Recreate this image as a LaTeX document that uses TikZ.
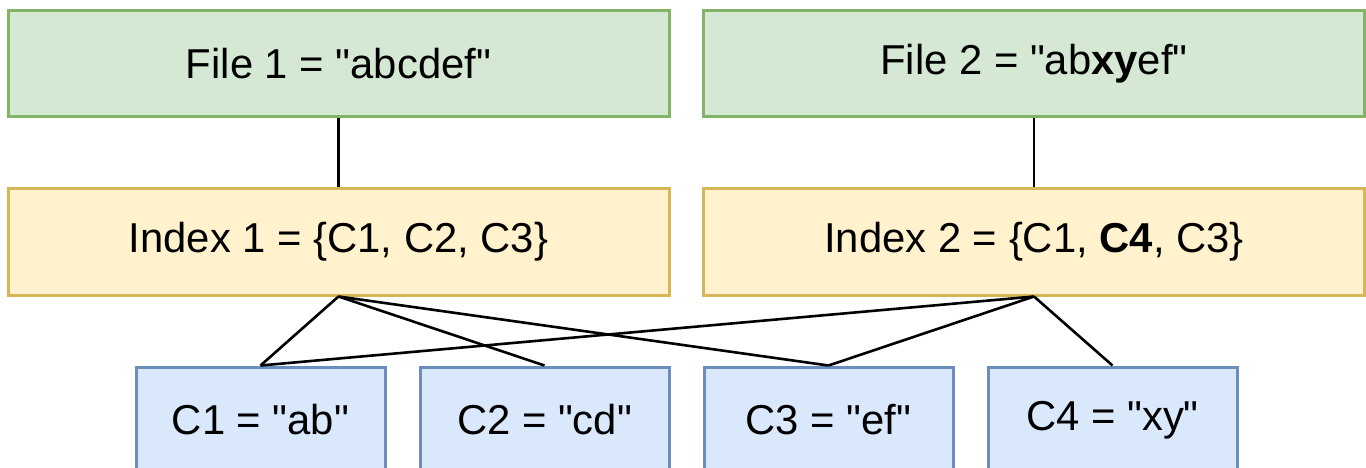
\documentclass[tikz,border=0pt]{standalone}
\usepackage{fontspec}
\setmainfont{Liberation Sans}
\newcommand{\dq}{\textquotedbl}
\definecolor{fileFill}{HTML}{D5E8D4}
\definecolor{fileLine}{HTML}{82B366}
\definecolor{idxFill}{HTML}{FFF2CC}
\definecolor{idxLine}{HTML}{D6B656}
\definecolor{chFill}{HTML}{DAE8FC}
\definecolor{chLine}{HTML}{6C8EBF}
\tikzset{
  box/.style={draw, line width=3pt, inner sep=0pt, minimum height=106pt,
    font=\fontsize{41.8}{50}\selectfont},
  filebox/.style={box, fill=fileFill, draw=fileLine, minimum width=661pt},
  idxbox/.style={box, fill=idxFill, draw=idxLine, minimum width=661pt},
  chunkbox/.style={box, fill=chFill, draw=chLine, minimum width=249pt},
  link/.style={draw=black, line width=2.6pt, line join=round}
}
\begin{document}
\begin{tikzpicture}[x=1pt,y=-1pt]
\useasboundingbox (0,0) rectangle (1366,468);
\clip (0,0) rectangle (1366,468);
% files
\node[filebox] (f1) at (338.5,64) {File 1 = \dq abcdef\dq};
\node[filebox] (f2) at (1034,64) {File 2 = \dq ab\textbf{xy}ef\dq};
% indexes
\node[idxbox] (i1) at (338.5,242) {Index 1 = \{C1, C2, C3\}};
\node[idxbox] (i2) at (1034,242) {Index 2 = \{C1, \textbf{C4}, C3\}};
% chunks
\node[chunkbox] (c1) at (260.5,420) {C1 = \dq ab\dq};
\node[chunkbox] (c2) at (544.5,420) {C2 = \dq cd\dq};
\node[chunkbox] (c3) at (828.5,420) {C3 = \dq ef\dq};
\node[chunkbox] (c4) at (1112.5,420) {C4 = \dq xy\dq};
% links
\draw[link] (f1.south) -- (i1.north);
\draw[link] (f2.south) -- (i2.north);
\draw[link] (i1.south) -- (c1.north);
\draw[link] (i1.south) -- (c2.north);
\draw[link] (i1.south) -- (c3.north);
\draw[link] (i2.south) -- (c1.north);
\draw[link] (i2.south) -- (c3.north);
\draw[link] (i2.south) -- (c4.north);
\end{tikzpicture}
\end{document}
